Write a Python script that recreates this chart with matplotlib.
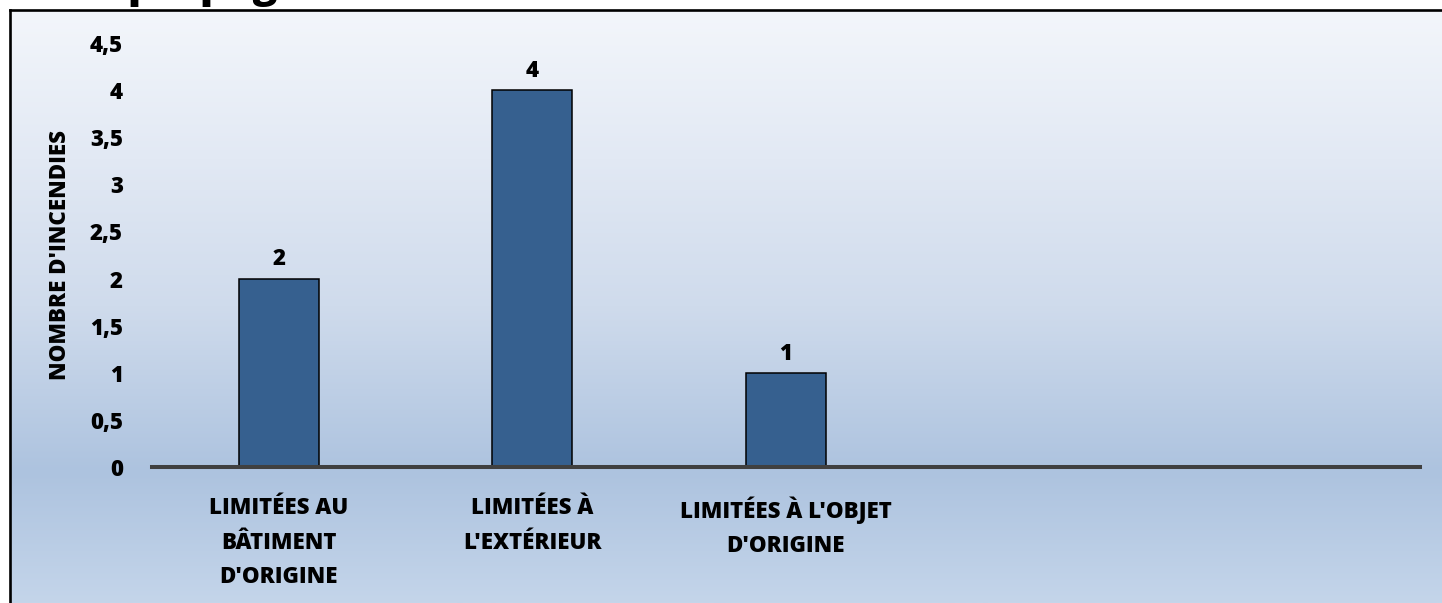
import matplotlib
matplotlib.use("Agg")
import matplotlib.pyplot as plt
import numpy as np
from matplotlib.colors import LinearSegmentedColormap

# ---- data ----
categories = ["LIMITÉES AU\nBÂTIMENT\nD'ORIGINE", "LIMITÉES À\nL'EXTÉRIEUR", "LIMITÉES À L'OBJET\nD'ORIGINE"]
values = [2, 4, 1]
yticks = [0, 0.5, 1, 1.5, 2, 2.5, 3, 3.5, 4, 4.5]
ytick_labels = [f"{v:g}".replace(".", ",") for v in yticks]
ylabel = "NOMBRE D'INCENDIES"
title_prefix = "Mode de "
title_main = "propagation"
n_slots = 5

plt.rcParams['font.family'] = ['Open Sans', 'DejaVu Sans']
FS = 16
FW = 'heavy'
W, H = 1442, 603
fig = plt.figure(figsize=(W / 100, H / 100), dpi=100)
fig.patch.set_facecolor('white')

# background gradient panel
bg = fig.add_axes([0, 0, 1, 1], zorder=-10)
bg.axis('off')
stops = [(0.0, '#f3f6fb'), (0.25, '#e2e9f4'), (0.5, '#cfdbec'), (0.78, '#adc3df'), (1.0, '#c4d5ea')]
cmap = LinearSegmentedColormap.from_list('bggrad', stops)
grad = np.linspace(0, 1, 256).reshape(-1, 1)
bg.imshow(grad, cmap=cmap, aspect='auto', extent=[10, W, H, 10], interpolation='bilinear')
bg.plot([10, 10], [H, 10], color='black', lw=1.9, solid_capstyle='projecting')
bg.plot([10, W], [10, 10], color='black', lw=1.9, solid_capstyle='projecting')
bg.set_xlim(0, W)
bg.set_ylim(H, 0)

# title (mostly above the image edge, as in the reference)
renderer = fig.canvas.get_renderer()
tmp = fig.text(0, 0, title_prefix.replace(" ", "\u00a0"), fontsize=30, fontweight=FW)
pw = tmp.get_window_extent(renderer).width
tmp.remove()
fig.text((128 - pw) / W, (H + 3) / H, title_prefix + title_main, fontsize=30, fontweight=FW,
         va='baseline', ha='left')

# main axes
x0, x1 = 152, 1420
y0, ytop = 467, 43
ax = fig.add_axes([x0 / W, (H - y0) / H, (x1 - x0) / W, (y0 - ytop) / H])
ax.patch.set_alpha(0)
ax.bar(range(len(values)), values, width=0.315, color='#36608f', edgecolor='black', linewidth=1.1, zorder=3)
for i, v in enumerate(values):
    ax.annotate(str(v), (i, v), xytext=(0, 9.5), textcoords='offset points', ha='center', va='baseline',
                fontsize=FS, fontweight=FW)
ax.set_xlim(-0.5, n_slots - 0.5)
ax.set_ylim(0, 4.5)
ax.set_yticks(yticks)
ax.set_yticklabels(ytick_labels, fontsize=FS, fontweight=FW)
ax.set_xticks(range(len(categories)))
ax.set_xticklabels(categories, fontsize=FS, fontweight=FW, linespacing=1.58)
ax.tick_params(axis='both', length=0)
ax.tick_params(axis='y', pad=21)
ax.tick_params(axis='x', pad=21)
for s in ['top', 'right', 'left']:
    ax.spines[s].set_visible(False)
ax.spines['bottom'].set_color('#404040')
ax.spines['bottom'].set_linewidth(2.9)
ax.spines['bottom'].set_zorder(4)
ax.set_ylabel(ylabel, fontsize=FS, fontweight=FW)
ax.yaxis.set_label_coords(-(x0 - 72) / (x1 - x0), 0.5)

fig.savefig('out.png', dpi=100)
